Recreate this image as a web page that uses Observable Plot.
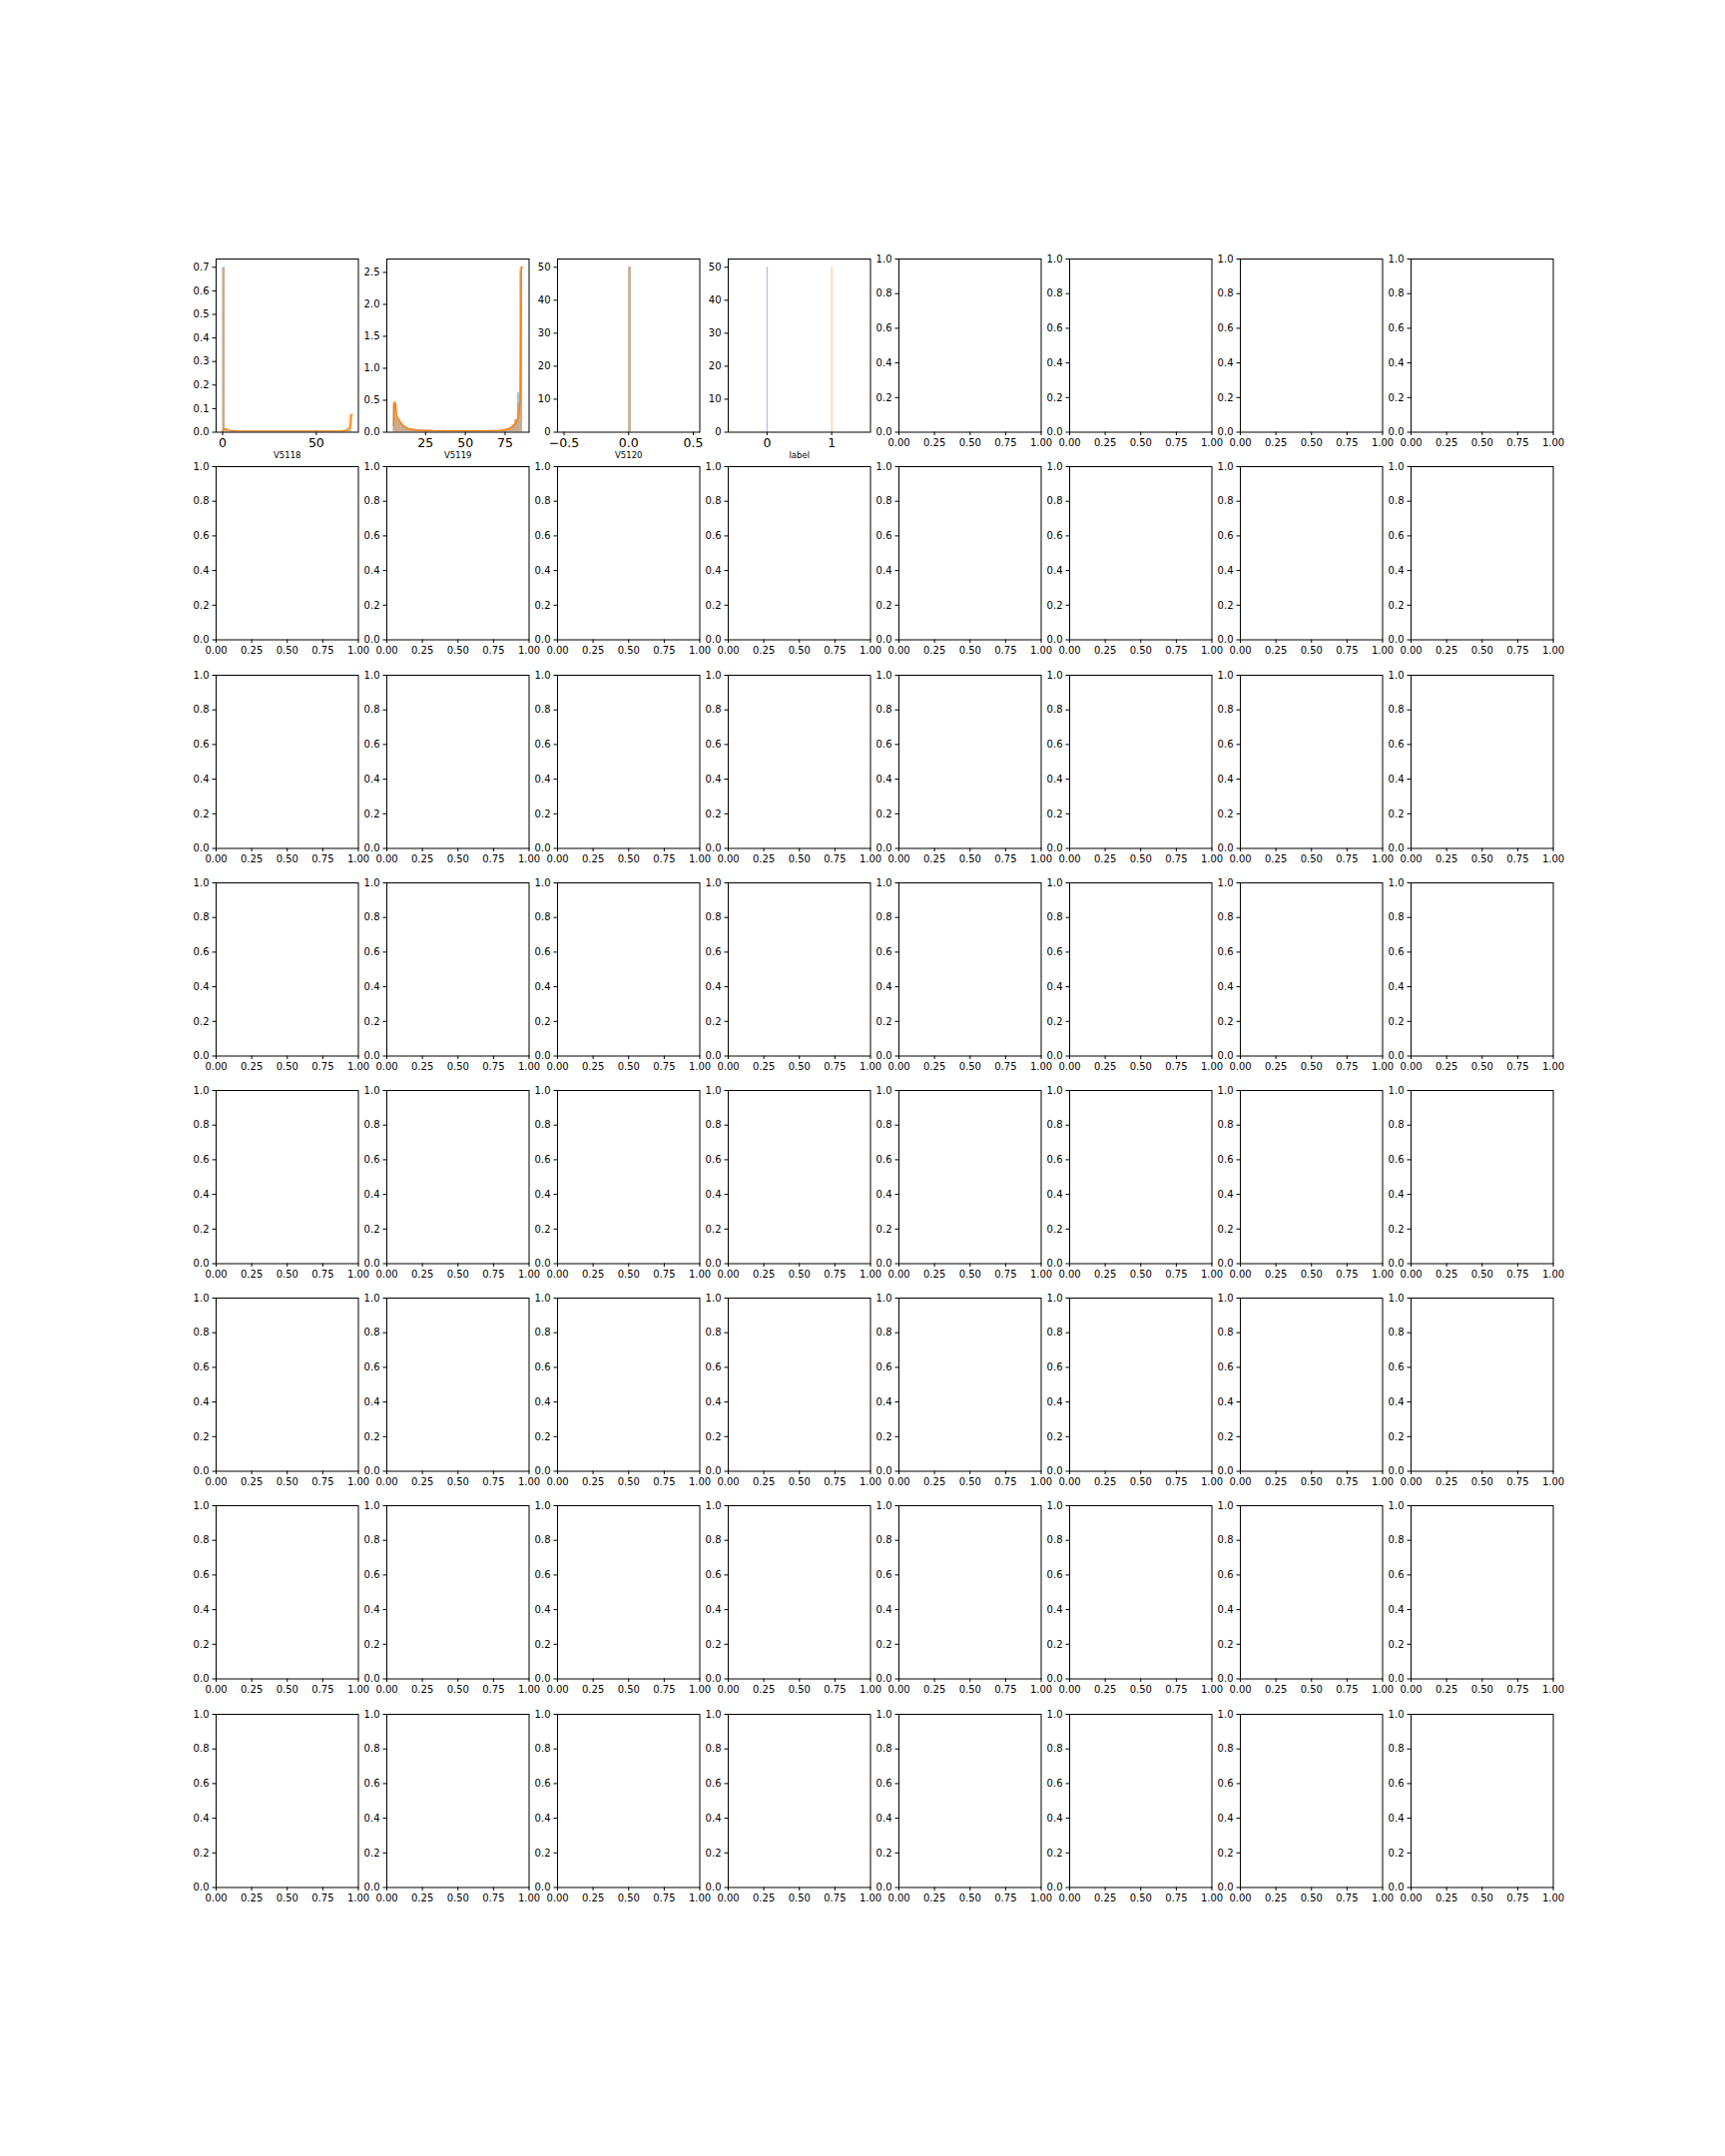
<!DOCTYPE html>
<html><head><meta charset="utf-8">
<script src="https://cdn.jsdelivr.net/npm/d3@7"></script>
<script src="https://cdn.jsdelivr.net/npm/@observablehq/plot@0.6"></script>
<style>
body{margin:0;background:#fff;}
#fig{position:relative;width:1728px;height:2160px;background:#fff;overflow:hidden;}
#fig svg{position:absolute;overflow:visible;}
</style></head><body><div id="fig"></div>
<script>
// ---- data ----
const featureNames = ["V5118", "V5119", "V5120", "label"];
const classColors = ["#1f77b4", "#ff7f0e"];

// V5118: density histograms, 50 bins over [0, 69]
const v5118Range = [0, 69];
const v5118Class0 = [0.700,0.004,0.003,0.002,0.002,0.002,0.002,0.002,0.002,0.002,
  0.002,0.002,0.002,0.002,0.002,0.002,0.002,0.002,0.002,0.002,
  0.002,0.002,0.002,0.002,0.002,0.002,0.002,0.002,0.002,0.002,
  0.002,0.002,0.002,0.002,0.002,0.002,0.002,0.002,0.002,0.002,
  0.002,0.002,0.002,0.002,0.002,0.002,0.002,0.002,0.003,0.006];
const v5118Class1 = [0.694,0.014,0.008,0.006,0.005,0.005,0.004,0.004,0.004,0.004,
  0.004,0.004,0.004,0.004,0.004,0.004,0.004,0.004,0.004,0.004,
  0.004,0.004,0.004,0.004,0.004,0.004,0.004,0.004,0.004,0.004,
  0.004,0.004,0.004,0.004,0.004,0.004,0.004,0.004,0.004,0.004,
  0.004,0.004,0.004,0.004,0.004,0.005,0.005,0.006,0.012,0.072];
const v5118CurveX = [0.2, 0.6, 2, 4, 8, 20, 40, 60, 64, 66, 67.5, 68.3, 68.8, 69.2];
const v5118CurveY = [0.004, 0.015, 0.012, 0.006, 0.004, 0.004, 0.004, 0.004, 0.005, 0.008, 0.015, 0.03, 0.075, 0.075];

// V5119: density histograms, 50 bins over [4.7, 86]
const v5119Range = [4.7, 86];
const v5119Class0 = [0.44,0.22,0.17,0.12,0.09,0.07,0.055,0.047,0.042,0.037,
  0.033,0.03,0.028,0.026,0.025,0.024,0.023,0.022,0.021,0.021,
  0.02,0.02,0.02,0.02,0.02,0.02,0.02,0.02,0.02,0.02,
  0.02,0.02,0.02,0.02,0.021,0.021,0.022,0.022,0.023,0.024,
  0.026,0.028,0.031,0.04,0.052,0.075,0.11,0.19,0.62,2.52];
const v5119Class1 = [0.47,0.25,0.20,0.14,0.10,0.075,0.06,0.05,0.045,0.04,
  0.035,0.032,0.03,0.028,0.026,0.025,0.024,0.023,0.022,0.022,
  0.021,0.021,0.02,0.02,0.02,0.02,0.02,0.02,0.02,0.02,
  0.02,0.02,0.02,0.021,0.021,0.022,0.022,0.023,0.024,0.025,
  0.026,0.028,0.032,0.042,0.055,0.08,0.12,0.2,0.46,2.58];
const v5119CurveX = [4.9, 5.4, 6.1, 6.8, 8, 9.5, 11, 13, 15, 20, 30, 50, 65, 72, 75, 78, 80, 82, 83.5, 84.5, 85.2, 85.8];
const v5119CurveY = [0.1, 0.47, 0.45, 0.25, 0.2, 0.14, 0.1, 0.065, 0.045, 0.03, 0.022, 0.02, 0.022, 0.028, 0.04, 0.06, 0.09, 0.15, 0.25, 0.5, 2.58, 2.58];

// V5120: every value is 0 -> 50 bins over [-0.5, 0.5]
const v5120Range = [-0.5, 0.5];
const v5120Bin = 25;
const v5120Class0 = 50;
const v5120Class1 = 50;

// label: class 0 all 0 (bins over [-0.5,0.5]); class 1 all 1 (bins over [0.5,1.5])
const labelRange0 = [-0.5, 0.5];
const labelRange1 = [0.5, 1.5];
const labelBin = 25;
const labelClass0 = 50;
const labelClass1 = 50;

const nBins = 50;

// ---- helpers ----
function binsFrom(range, values) {
  const w = (range[1] - range[0]) / nBins;
  return values.map((v, i) => ({x1: range[0] + i * w, x2: range[0] + (i + 1) * w, y: v}));
}
function singleBin(range, index, value) {
  const w = (range[1] - range[0]) / nBins;
  return [{x1: range[0] + index * w, x2: range[0] + (index + 1) * w, y: value}];
}
function padded(lo, hi) { const m = (hi - lo) * 0.05; return [lo - m, hi + m]; }

const panels = [
  {name: featureNames[0], xDomain: padded(...v5118Range), yDomain: [0, 0.735],
   xTicks: [0, 50], xFormat: d3.format("d"), yTicks: d3.range(0, 0.71, 0.1), yFormat: d3.format(".1f"),
   bins: [binsFrom(v5118Range, v5118Class0), binsFrom(v5118Range, v5118Class1)],
   curve: v5118CurveX.map((x, i) => ({x, y: v5118CurveY[i]}))},
  {name: featureNames[1], xDomain: padded(...v5119Range), yDomain: [0, 2.71],
   xTicks: [25, 50, 75], xFormat: d3.format("d"), yTicks: [0, 0.5, 1, 1.5, 2, 2.5], yFormat: d3.format(".1f"),
   bins: [binsFrom(v5119Range, v5119Class0), binsFrom(v5119Range, v5119Class1)],
   curve: v5119CurveX.map((x, i) => ({x, y: v5119CurveY[i]}))},
  {name: featureNames[2], xDomain: padded(...v5120Range), yDomain: [0, 52.5],
   xTicks: [-0.5, 0, 0.5], xFormat: d3.format(".1f"), yTicks: [0, 10, 20, 30, 40, 50], yFormat: d3.format("d"),
   bins: [singleBin(v5120Range, v5120Bin, v5120Class0), singleBin(v5120Range, v5120Bin, v5120Class1)],
   curve: null},
  {name: featureNames[3], xDomain: padded(labelRange0[0], labelRange1[1]), yDomain: [0, 52.5],
   xTicks: [0, 1], xFormat: d3.format("d"), yTicks: [0, 10, 20, 30, 40, 50], yFormat: d3.format("d"),
   bins: [singleBin(labelRange0, labelBin, labelClass0), singleBin(labelRange1, labelBin, labelClass1)],
   curve: null}
];

const emptyXTicks = [0, 0.25, 0.5, 0.75, 1];
const emptyYTicks = [0, 0.2, 0.4, 0.6, 0.8, 1];

// ---- layout ----
const W = 142.5, H = 173.5, X0 = 216, Y0 = 259.2, DX = 171, DY = 208.2;
const ML = 45, MR = 15, MT = 10, MB = 45;
const fig = document.getElementById("fig");
const font = "'DejaVu Sans', sans-serif";

for (let r = 0; r < 8; r++) {
  for (let c = 0; c < 8; c++) {
    const idx = r * 8 + c;
    const p = panels[idx];
    let marks = [];
    let opts;
    if (p) {
      p.bins.forEach((b, k) => marks.push(Plot.rect(b, {x1: "x1", x2: "x2", y1: () => 0, y2: "y",
        fill: classColors[k], fillOpacity: 0.4, clip: true})));
      if (p.curve) marks.push(Plot.line(p.curve, {x: "x", y: "y", stroke: classColors[1], strokeWidth: 1.5, clip: true}));
      marks.push(Plot.frame({stroke: "#000", strokeWidth: 1}));
      marks.push(Plot.axisX({ticks: p.xTicks, tickFormat: p.xFormat, tickSize: 3.5, tickPadding: 3, fontSize: 12.5, label: null}));
      marks.push(Plot.axisY({ticks: p.yTicks, tickFormat: p.yFormat, tickSize: 3.5, tickPadding: 3.5, fontSize: 10, label: null}));
      marks.push(Plot.text([p.name], {frameAnchor: "bottom", dy: 26, fontSize: 8.5, text: d => d, fill: "#000"}));
      opts = {x: {domain: p.xDomain}, y: {domain: p.yDomain}};
    } else {
      marks.push(Plot.frame({stroke: "#000", strokeWidth: 1}));
      marks.push(Plot.axisX({ticks: emptyXTicks, tickFormat: d3.format(".2f"), tickSize: 3.5, tickPadding: 3, fontSize: 10, label: null}));
      marks.push(Plot.axisY({ticks: emptyYTicks, tickFormat: d3.format(".1f"), tickSize: 3.5, tickPadding: 3.5, fontSize: 10, label: null}));
      opts = {x: {domain: [0, 1]}, y: {domain: [0, 1]}};
    }
    const svg = Plot.plot({
      width: W + ML + MR, height: H + MT + MB,
      marginLeft: ML, marginRight: MR, marginTop: MT, marginBottom: MB,
      x: {...opts.x, label: null}, y: {...opts.y, label: null},
      style: {fontFamily: font, fontSize: "10px", color: "#000", background: "transparent", overflow: "visible"},
      marks
    });
    svg.style.left = (X0 + c * DX - ML) + "px";
    svg.style.top = (Y0 + r * DY - MT) + "px";
    fig.appendChild(svg);
  }
}
</script></body></html>
